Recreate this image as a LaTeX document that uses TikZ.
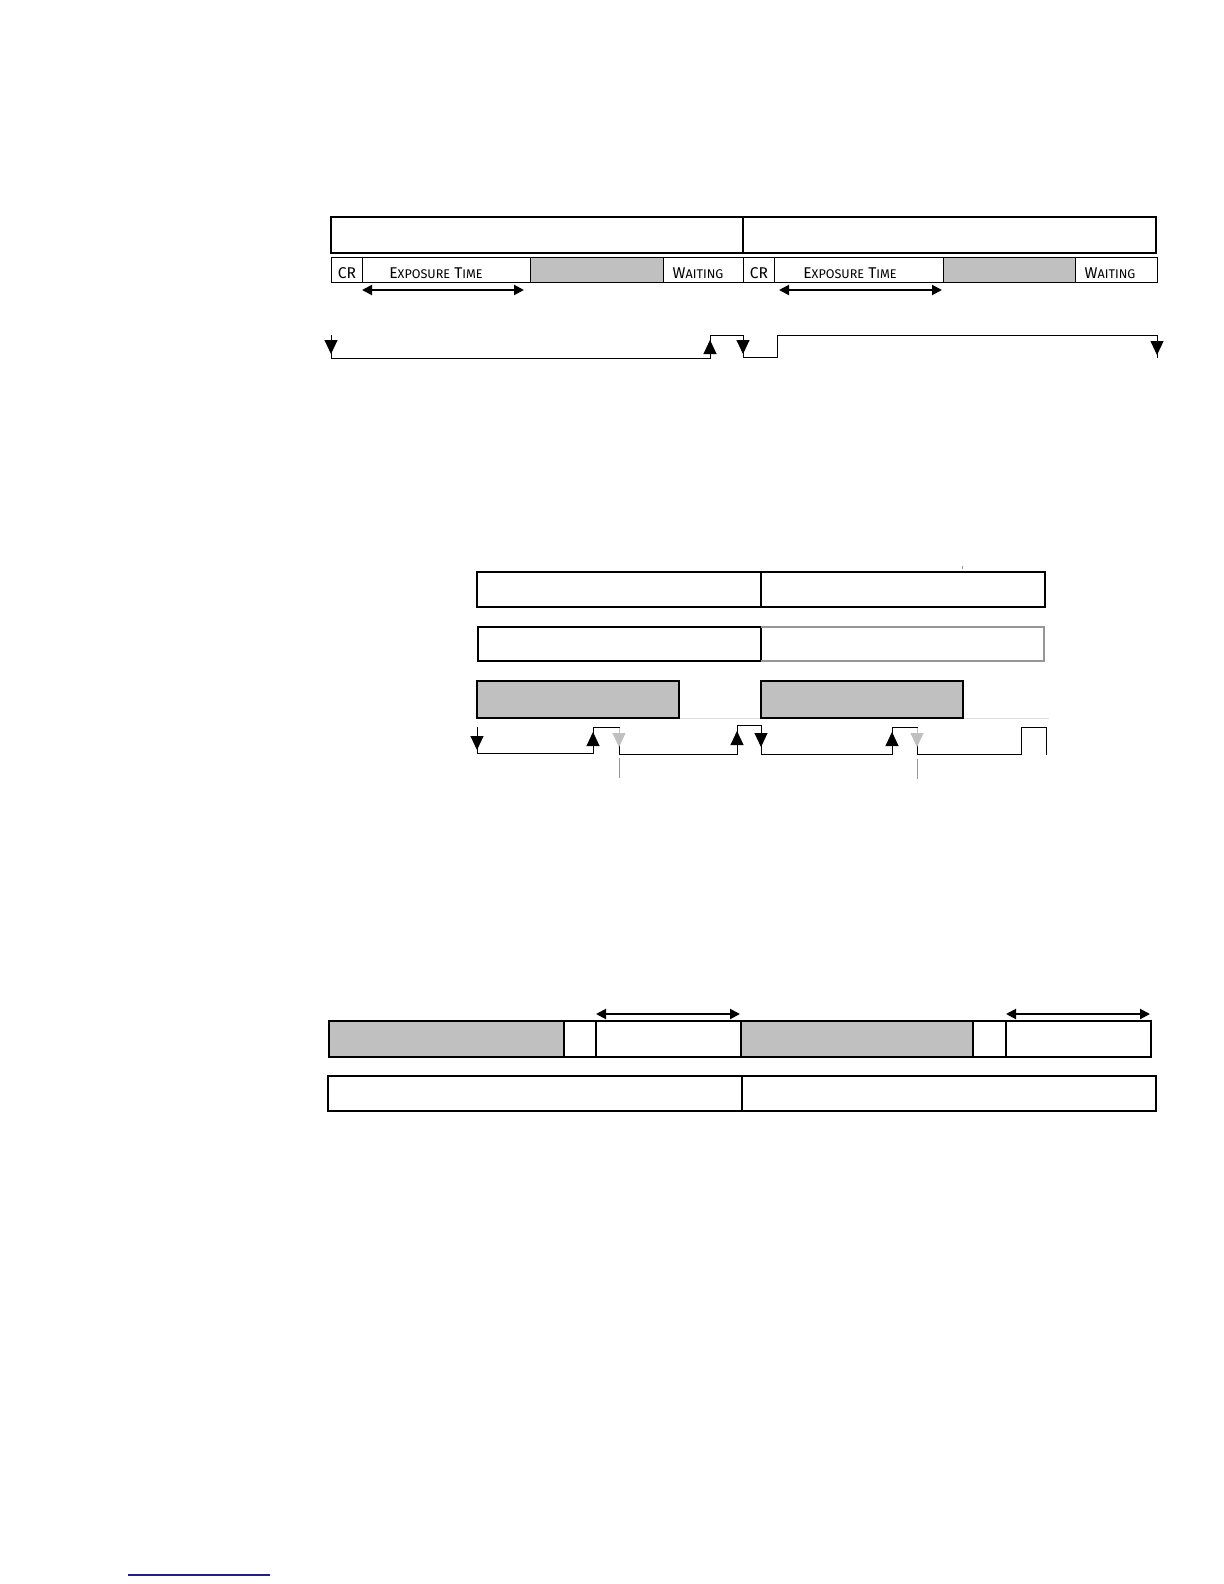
\documentclass[tikz,border=0pt]{standalone}
\usepackage{fontspec}
\setmainfont{Fira Sans}
\usetikzlibrary{arrows.meta}
\definecolor{cellgray}{RGB}{192,192,192}
\definecolor{faint}{RGB}{150,150,150}
\definecolor{pale}{RGB}{222,222,222}
\definecolor{linkblue}{RGB}{30,30,140}
\newcommand{\capsmall}[2]{#1{\fontsize{6.3}{7}\selectfont #2}}

\begin{document}
\begin{tikzpicture}[x=0.5pt,y=-0.5pt]

    \tikzset{framestyle/.style={draw,line width=0.9pt}}
    \tikzset{cellstyle/.style={draw,line width=0.5pt}}
    \tikzset{labelstyle/.style={font=\fontsize{7.8}{8}\selectfont,inner sep=0pt,anchor=base}}
    \tikzset{spanstyle/.style={line width=1pt,{Triangle[width=5pt,length=5pt]}-{Triangle[width=5pt,length=5pt]}}}
    \tikzset{sigstyle/.style={line width=0.5pt}}
    \tikzset{tickstyle/.style={line width=0.5pt,-{Triangle[width=6.5pt,length=7pt]}}}

    \useasboundingbox (0,0) rectangle (1224,1584);

    % Primer esquema
    \draw[framestyle] (331,217) rectangle (743,253);
    \draw[framestyle] (743,217) rectangle (1156,253);

    \draw[cellstyle] (331,257) rectangle (362,282);
    \draw[cellstyle] (362,257) rectangle (530,282);
    \draw[cellstyle,fill=cellgray] (530,257) rectangle (663,282);
    \draw[cellstyle] (663,257) rectangle (743,282);
    \draw[cellstyle] (743,257) rectangle (774,282);
    \draw[cellstyle] (774,257) rectangle (943,282);
    \draw[cellstyle,fill=cellgray] (943,257) rectangle (1075,282);
    \draw[cellstyle] (1075,257) rectangle (1157,282);

    \node[labelstyle] (cr1) at (347,278) {CR};
    \node[labelstyle] (exp1) at (436,278) {\capsmall{E}{XPOSURE} \capsmall{T}{IME}};
    \node[labelstyle] (wait1) at (698,278) {\capsmall{W}{AITING}};
    \node[labelstyle] (cr2) at (759,278) {CR};
    \node[labelstyle] (exp2) at (850,278) {\capsmall{E}{XPOSURE} \capsmall{T}{IME}};
    \node[labelstyle] (wait2) at (1110,278) {\capsmall{W}{AITING}};

    \draw[spanstyle] (362,290) -- (524,290);
    \draw[spanstyle] (779,290) -- (942,290);

    \draw[sigstyle] (331,335) -- (331,358) -- (710,358) -- (710,335) -- (743,335)
        -- (743,357) -- (777,357) -- (777,335) -- (1157,335) -- (1157,358);
    \draw[tickstyle] (331,335) -- (331,354);
    \draw[tickstyle] (710,358) -- (710,340);
    \draw[tickstyle] (743,335) -- (743,354);
    \draw[tickstyle] (1157,336) -- (1157,355);

    % Segundo esquema
    \draw[line width=0.7pt] (477,572) rectangle (761,607);
    \draw[line width=0.7pt] (761,572) rectangle (1045,607);
    \draw[faint,line width=0.3pt] (962,566) -- (962,569);

    \draw[line width=0.7pt] (478,627) rectangle (761,661);
    \draw[faint,line width=0.6pt] (761,627) -- (1044,627) -- (1044,661) -- (761,661);

    \draw[pale,line width=0.4pt] (477,718) -- (1049,718);
    \draw[framestyle,fill=cellgray] (477,681) rectangle (679,718);
    \draw[framestyle,fill=cellgray] (761,681) rectangle (963,718);

    \draw[sigstyle] (477,727) -- (477,753) -- (593,753) -- (593,727) -- (619,727)
        -- (619,754) -- (737,754) -- (737,725) -- (761,725) -- (761,754)
        -- (892,754) -- (892,727) -- (917,727) -- (917,754) -- (1021,754)
        -- (1021,727) -- (1046,727) -- (1046,755);
    \draw[tickstyle] (477,730) -- (477,750);
    \draw[tickstyle] (593,753) -- (593,732);
    \draw[tickstyle,cellgray] (619,728) -- (619,747);
    \draw[tickstyle] (737,754) -- (737,731);
    \draw[tickstyle] (761,726) -- (761,747);
    \draw[tickstyle] (892,754) -- (892,732);
    \draw[tickstyle,cellgray] (917,728) -- (917,747);

    \draw[faint,line width=0.5pt] (619,758) -- (619,778);
    \draw[faint,line width=0.5pt] (917,759) -- (917,779);

    % Tercer esquema
    \draw[spanstyle] (596,1014) -- (740,1014);
    \draw[spanstyle] (1006,1014) -- (1150,1014);

    \draw[framestyle,fill=cellgray] (329,1021) rectangle (564,1057);
    \draw[framestyle] (564,1021) rectangle (596,1057);
    \draw[framestyle] (596,1021) rectangle (741,1057);
    \draw[framestyle,fill=cellgray] (741,1021) rectangle (973,1057);
    \draw[framestyle] (973,1021) rectangle (1006,1057);
    \draw[framestyle] (1006,1021) rectangle (1151,1057);

    \draw[framestyle] (328,1076) rectangle (742,1111);
    \draw[framestyle] (742,1076) rectangle (1156,1111);

    \draw[linkblue,line width=0.8pt] (128,1575) -- (270,1575);

\end{tikzpicture}
\end{document}
